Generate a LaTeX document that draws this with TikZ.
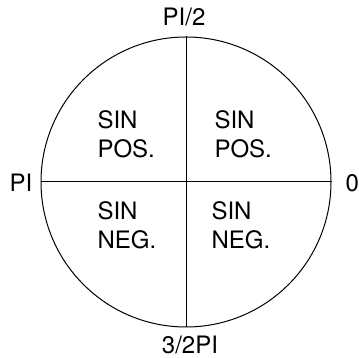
\documentclass[tikz,border=0pt]{standalone}
\usepackage{fontspec}
\setmainfont{TeX Gyre Heros}
\usetikzlibrary{positioning}

\begin{document}
\begin{tikzpicture}[x=1pt, y=1pt, line width=1pt,
    quad/.style={align=left, anchor=west, inner sep=0pt, font=\fontsize{24}{29}\selectfont},
    angle/.style={inner sep=0pt, font=\fontsize{24}{29}\selectfont}]
        \useasboundingbox (0,0) rectangle (359,358);
        \node[circle, draw, minimum size=290pt, inner sep=0pt] (disc) at (186,176) {};
        \draw (disc.north) -- (disc.south);
        \draw (disc.west) -- (disc.east);
        % quadrants
        \node[quad] (q2) at (97,224) {SIN\\POS.};
        \node[quad] (q1) at (214,224) {SIN\\POS.};
        \node[quad] (q3) at (97,133) {SIN\\NEG.};
        \node[quad] (q4) at (211,133) {SIN\\NEG.};
        % angles
        \node[angle] (top) at (184,341) {PI/2};
        \node[angle] (left) at (21,175) {PI};
        \node[angle, anchor=west] (right) at (345,175) {0};
        \node[angle] (bottom) at (190,13) {3/2PI};
      \end{tikzpicture}
\end{document}
